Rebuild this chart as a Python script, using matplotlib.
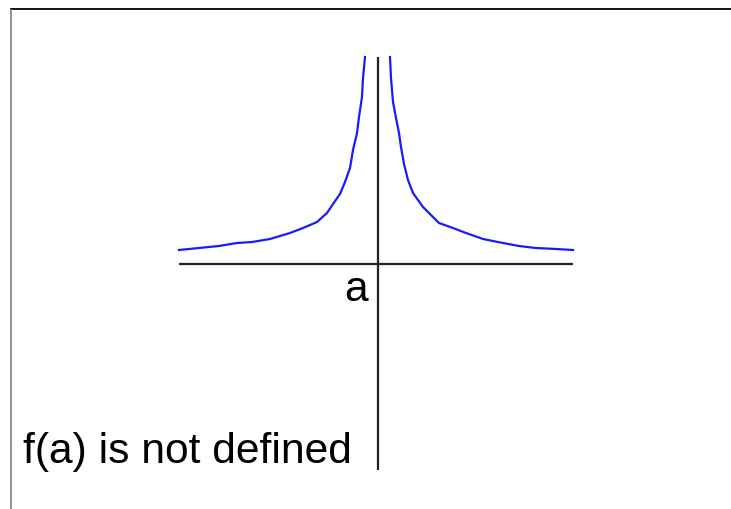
import matplotlib.pyplot as plt

# curve samples, origin at the point (a, 0)
left_x = [-199, -179, -159, -141, -126, -108, -88, -75, -61, -51, -45, -38, -33, -28, -25, -21, -19, -16, -15, -13]
left_y = [14, 16, 18, 21, 22, 25, 31, 36, 42, 51, 60, 70, 82, 96, 114, 131, 147, 167, 186, 207]
right_x = [12, 13, 15, 18, 21, 23, 26, 30, 35, 45, 61, 75, 88, 105, 125, 141, 158, 178, 195]
right_y = [207, 186, 162, 146, 131, 117, 100, 84, 71, 57, 41, 36, 31, 25, 21, 18, 16, 15, 14]

x_axis = [-199, 195]
y_axis = [-206, 207]

point_label = 'a'
caption = 'f(a) is not defined'

plt.rcParams['font.family'] = ['Liberation Sans', 'DejaVu Sans']

fig = plt.figure(figsize=(7.31, 5.09), dpi=100)
ax = fig.add_axes([0, 0, 1, 1])
ax.set_xlim(-378, 353)
ax.set_ylim(-245, 264)
ax.axis('off')

# frame edges (top and left only)
ax.plot([10 / 731, 1], [1 - 9 / 509, 1 - 9 / 509], color='black', lw=1.3,
        transform=ax.transAxes, solid_capstyle='butt')
ax.plot([11 / 731, 11 / 731], [0, 1 - 9 / 509], color='#888888', lw=1.3,
        transform=ax.transAxes, solid_capstyle='butt')

# axes through (a, 0)
ax.plot(x_axis, [0, 0], color='#222222', lw=1.6, solid_capstyle='butt')
ax.plot([0, 0], y_axis, color='#222222', lw=1.6, solid_capstyle='butt')

ax.plot(left_x, left_y, color='#1a1aff', lw=1.6)
ax.plot(right_x, right_y, color='#1a1aff', lw=1.6)

ax.text(-10, -37, point_label, fontsize=30.7, ha='right', va='baseline')
ax.text(-355, -199, caption, fontsize=30.7, ha='left', va='baseline')

fig.savefig('out.png', dpi=100)
